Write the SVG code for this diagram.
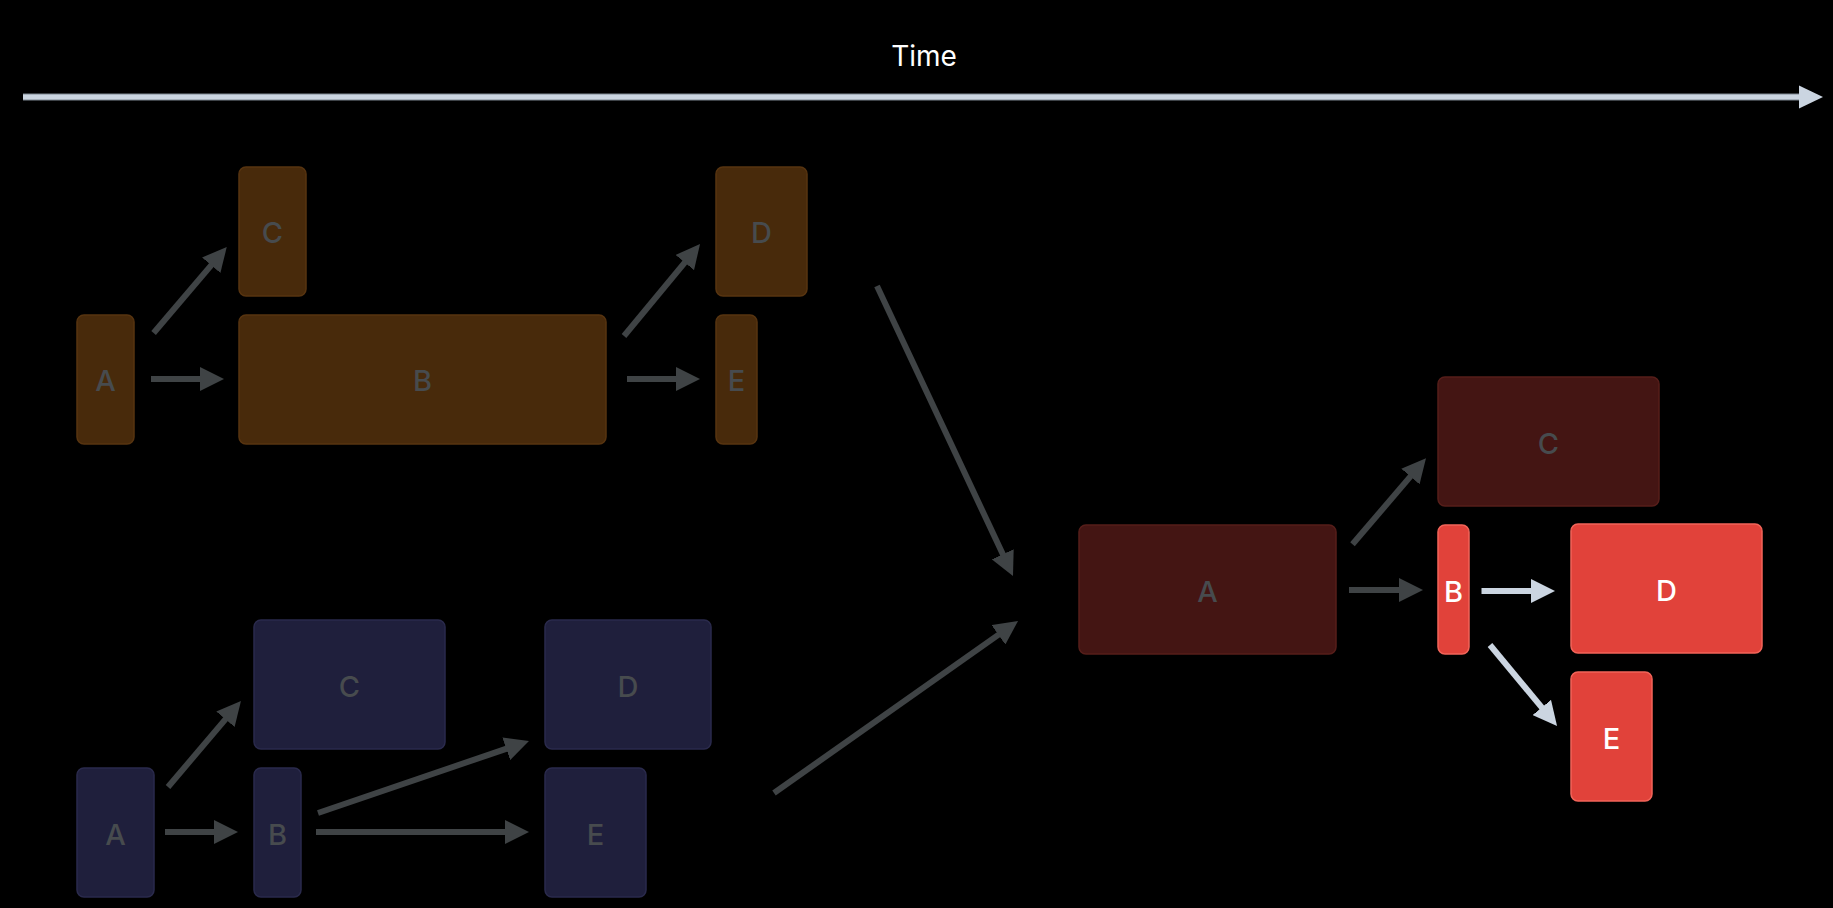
<svg xmlns="http://www.w3.org/2000/svg" width="1833" height="908" viewBox="0 0 1833 908">
<style>
.bg{fill:#000}
.brown{fill:#482a0b;stroke:#573410;stroke-width:1.5}
.navy{fill:#1f1f3c;stroke:#2a2a4c;stroke-width:1.5}
.dred{fill:#441513;stroke:#561e1a;stroke-width:1.5}
.red{fill:#e1423a;stroke:#f26459;stroke-width:1.5}
.lbl{font-family:Inter,"Liberation Sans",Arial,sans-serif;font-weight:500;font-size:29px;text-anchor:middle;dominant-baseline:central;fill:#474b4e}
.lbl.w{fill:#ffffff}
.ga{stroke:#3f4345;stroke-width:6;fill:none;marker-end:url(#hg)}
.la{stroke:#cbd5e1;stroke-width:6;fill:none;marker-end:url(#hl)}
</style>
<defs>
<marker id="hg" viewBox="0 0 10 10" markerWidth="4" markerHeight="4" refX="5" refY="5" orient="auto"><path d="M0,0 L10,5 L0,10 z" fill="#3f4345"/></marker>
<marker id="hl" viewBox="0 0 10 10" markerWidth="4" markerHeight="4" refX="5" refY="5" orient="auto"><path d="M0,0 L10,5 L0,10 z" fill="#cbd5e1"/></marker>
</defs>
<rect class="bg" x="0" y="0" width="1833" height="908"/>

<g id="timeline">
<line x1="23" y1="97" x2="1805" y2="97" stroke="#7d8690" stroke-width="7"/>
<line x1="23" y1="97" x2="1805" y2="97" stroke="#cbd5e1" stroke-width="5"/>
<path d="M1799,85.5 L1823,97 L1799,108.5 z" fill="#cbd5e1"/>
<text x="924" y="66" font-family="Inter,Liberation Sans,Arial,sans-serif" font-size="28" fill="#ffffff" text-anchor="middle">Time</text>
</g>

<g id="connectors">
<line class="ga" x1="153.6" y1="333" x2="219" y2="256.1"/>
<line class="ga" x1="151" y1="379" x2="212" y2="379"/>
<line class="ga" x1="624" y1="336" x2="692.4" y2="253.3"/>
<line class="ga" x1="627" y1="379" x2="688" y2="379"/>
<line class="ga" x1="877" y1="286" x2="1007.9" y2="565.1"/>
<line class="ga" x1="168" y1="787" x2="233.2" y2="710.1"/>
<line class="ga" x1="165" y1="832" x2="226" y2="832"/>
<line class="ga" x1="318" y1="813" x2="517.6" y2="744.9"/>
<line class="ga" x1="316" y1="832" x2="517" y2="832"/>
<line class="ga" x1="774" y1="793" x2="1008.2" y2="627.9"/>
<line class="ga" x1="1352.5" y1="544.3" x2="1418.2" y2="467.4"/>
<line class="ga" x1="1349" y1="590" x2="1411" y2="590"/>
<line class="la" x1="1481.5" y1="591" x2="1543" y2="591"/>
<line class="la" x1="1490" y1="645" x2="1549.4" y2="716.7"/>
</g>

<g id="top-A"><rect class="brown" x="77" y="315" width="57" height="129" rx="7"/><text class="lbl" x="105.5" y="380">A</text></g>
<g id="top-C"><rect class="brown" x="239" y="167" width="67" height="129" rx="7"/><text class="lbl" x="272.5" y="232">C</text></g>
<g id="top-B"><rect class="brown" x="239" y="315" width="367" height="129" rx="7"/><text class="lbl" x="422.5" y="380">B</text></g>
<g id="top-D"><rect class="brown" x="716" y="167" width="91" height="129" rx="7"/><text class="lbl" x="761.5" y="232">D</text></g>
<g id="top-E"><rect class="brown" x="716" y="315" width="41" height="129" rx="7"/><text class="lbl" x="736.5" y="380">E</text></g>

<g id="bot-A"><rect class="navy" x="77" y="768" width="77" height="129" rx="7"/><text class="lbl" x="115.5" y="834">A</text></g>
<g id="bot-C"><rect class="navy" x="254" y="620" width="191" height="129" rx="7"/><text class="lbl" x="349.5" y="686">C</text></g>
<g id="bot-B"><rect class="navy" x="254" y="768" width="47" height="129" rx="7"/><text class="lbl" x="277.5" y="834">B</text></g>
<g id="bot-D"><rect class="navy" x="545" y="620" width="166" height="129" rx="7"/><text class="lbl" x="628" y="686">D</text></g>
<g id="bot-E"><rect class="navy" x="545" y="768" width="101" height="129" rx="7"/><text class="lbl" x="595.5" y="834">E</text></g>

<g id="res-A"><rect class="dred" x="1079" y="525" width="257" height="129" rx="7"/><text class="lbl" x="1207.5" y="591">A</text></g>
<g id="res-C"><rect class="dred" x="1438" y="377" width="221" height="129" rx="7"/><text class="lbl" x="1548.5" y="443">C</text></g>
<g id="res-B"><rect class="red" x="1438" y="525" width="31" height="129" rx="7"/><text class="lbl w" x="1453.5" y="591">B</text></g>
<g id="res-D"><rect class="red" x="1571" y="524" width="191" height="129" rx="7"/><text class="lbl w" x="1666.5" y="590">D</text></g>
<g id="res-E"><rect class="red" x="1571" y="672" width="81" height="129" rx="7"/><text class="lbl w" x="1611.5" y="738">E</text></g>
</svg>
